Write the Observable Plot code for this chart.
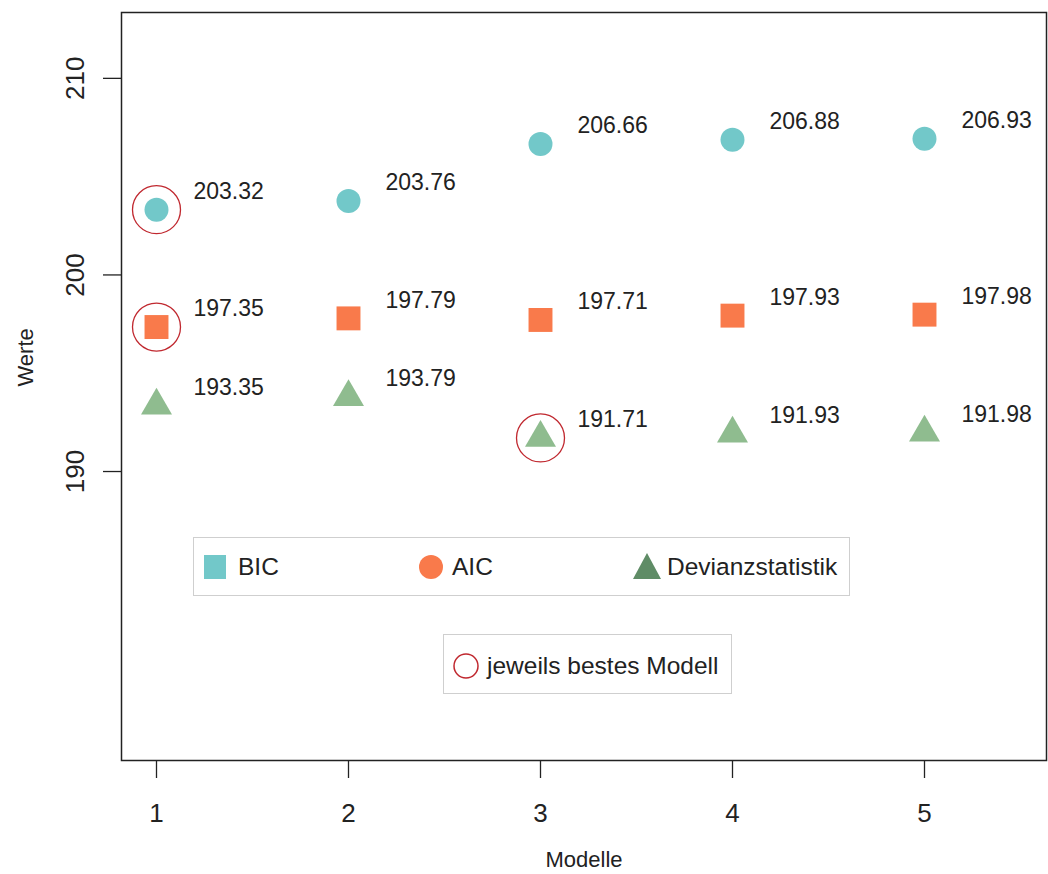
<!DOCTYPE html>
<html>
<head>
<meta charset="utf-8">
<script src="https://cdn.jsdelivr.net/npm/d3@7"></script>
<script src="https://cdn.jsdelivr.net/npm/@observablehq/plot@0.6"></script>
<style>
  body { margin: 0; background: #fff; }
  #wrap { position: relative; width: 1048px; height: 874px; font-family: "Liberation Sans", Arial, sans-serif; color: #222; }
  .lg { position: absolute; border: 1.5px solid #cfcfcf; background: #fff; box-sizing: border-box; }
  .lg svg { position: absolute; left: 0; top: 0; overflow: visible; }
  .lg span { position: absolute; font-size: 24.5px; line-height: 1; white-space: nowrap; color: #222; }
</style>
</head>
<body>
<div id="wrap"></div>
<script>
// ---- data ----
const models = [1, 2, 3, 4, 5];
const bic = [203.32, 203.76, 206.66, 206.88, 206.93];
const aic = [197.35, 197.79, 197.71, 197.93, 197.98];
const dev = [193.35, 193.79, 191.71, 191.93, 191.98];
const yTicks = [190, 200, 210];
const seriesNames = ["BIC", "AIC", "Devianzstatistik"];
const bestLabel = "jeweils bestes Modell";

const colBIC = "#72C8C9";
const colAIC = "#F97A4B";
const colDev = "#8FBC8F";
const colDevLegend = "#5F8C66";
const colBest = "#C0282F";

const rows = (vals, s) => vals.map((v, i) => ({model: models[i], value: v, series: s}));
const bicRows = rows(bic, "BIC");
const aicRows = rows(aic, "AIC");
const devRows = rows(dev, "Dev");
const allRows = [...bicRows, ...aicRows, ...devRows];
const bestOf = (r) => r.reduce((a, b) => (b.value < a.value ? b : a));
const best = [bestOf(bicRows), bestOf(aicRows), bestOf(devRows)];

const chart = Plot.plot({
  width: 1048,
  height: 874,
  marginLeft: 121,
  marginRight: 2,
  marginTop: 12,
  marginBottom: 114,
  style: {fontFamily: "'Liberation Sans', Arial, sans-serif", fontSize: "22px", color: "#222", background: "#fff"},
  x: {domain: [1 - 35 / 192, 5 + 122 / 192], label: null},
  y: {domain: [175.30, 213.35], label: null},
  marks: [
    Plot.frame({stroke: "#222", strokeWidth: 1.5}),
    Plot.axisY({ticks: yTicks, tickSize: 18, tickFormat: () => "", label: null, stroke: "#222", strokeWidth: 1.3}),
    Plot.text(yTicks, {y: d => d, text: d => String(d), frameAnchor: "left", dx: -46, rotate: -90, fontSize: 26, textAnchor: "middle", lineAnchor: "middle", fill: "#222"}),
    Plot.axisX({ticks: models, tickSize: 18, tickPadding: 25, tickFormat: d => String(d), fontSize: 26, label: null, stroke: "#222", strokeWidth: 1.3, fill: "#222"}),
    Plot.text(["Modelle"], {frameAnchor: "bottom", dy: 106, fontSize: 22, fill: "#222"}),
    Plot.text(["Werte"], {frameAnchor: "left", dx: -96, rotate: -90, fontSize: 22, fill: "#222"}),
    Plot.dot(bicRows, {x: "model", y: "value", r: 12, fill: colBIC, symbol: "circle"}),
    Plot.dot(aicRows, {x: "model", y: "value", r: 13.5, fill: colAIC, symbol: "square"}),
    Plot.dot(devRows, {x: "model", y: "value", r: 11.5, fill: colDev, symbol: "triangle"}),
    Plot.dot(best, {x: "model", y: "value", r: 24, fill: "none", stroke: colBest, strokeWidth: 1.3}),
    Plot.text(allRows, {x: "model", y: "value", text: d => d.value.toFixed(2), dx: 37, dy: -18, textAnchor: "start", fontSize: 23, fill: "#222"})
  ]
});

const wrap = document.getElementById("wrap");
wrap.appendChild(chart);

// ---- legends (overlay) ----
function legendBox(left, top, width, height, items) {
  const box = document.createElement("div");
  box.className = "lg";
  Object.assign(box.style, {left: left + "px", top: top + "px", width: width + "px", height: height + "px"});
  const svg = d3.create("svg").attr("width", width).attr("height", height);
  for (const it of items) {
    if (it.shape === "square") svg.append("rect").attr("x", it.x - 11).attr("y", it.y - 12).attr("width", 22).attr("height", 24).attr("fill", it.color);
    if (it.shape === "circle") svg.append("circle").attr("cx", it.x).attr("cy", it.y).attr("r", 12).attr("fill", it.color);
    if (it.shape === "triangle") svg.append("path").attr("d", `M${it.x - 14},${it.y + 12}L${it.x + 14},${it.y + 12}L${it.x},${it.y - 14}Z`).attr("fill", it.color);
    if (it.shape === "ring") svg.append("circle").attr("cx", it.x).attr("cy", it.y).attr("r", 12).attr("fill", "none").attr("stroke", it.color).attr("stroke-width", 1.5);
  }
  box.appendChild(svg.node());
  for (const it of items) {
    const s = document.createElement("span");
    s.textContent = it.label;
    s.style.left = it.tx + "px";
    s.style.top = (it.y - 12) + "px";
    box.appendChild(s);
  }
  wrap.appendChild(box);
}

legendBox(193, 537, 657, 59, [
  {shape: "square", color: colBIC, x: 21, y: 29, tx: 44, label: seriesNames[0]},
  {shape: "circle", color: colAIC, x: 237, y: 29, tx: 258, label: seriesNames[1]},
  {shape: "triangle", color: colDevLegend, x: 453, y: 29, tx: 473, label: seriesNames[2]}
]);
legendBox(443, 634, 289, 60, [
  {shape: "ring", color: colBest, x: 22, y: 31, tx: 43, label: bestLabel}
]);
</script>
</body>
</html>
